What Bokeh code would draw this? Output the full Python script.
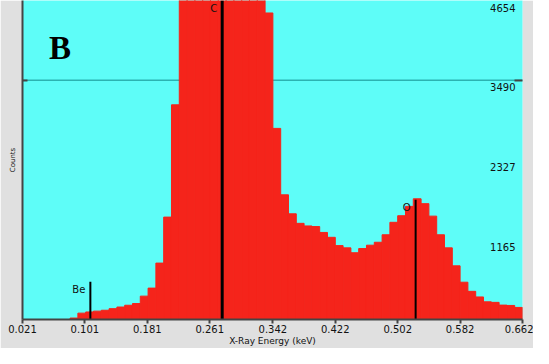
from bokeh.plotting import figure
from bokeh.models import ColumnDataSource, FixedTicker, Span, Label, LinearAxis, Range1d
from bokeh.core.properties import value
from bokeh.embed import file_html
from bokeh.resources import INLINE

# ---- data -------------------------------------------------------------
channel_width_kev = 0.01
channel_start_kev = [round(0.082 + channel_width_kev * i, 3) for i in range(58)]
channel_counts = [
    21, 93, 110, 122, 135, 158, 182, 208, 233, 341, 458, 823, 1494, 3132,
    5400, 7000, 8600, 9700, 10100, 9800, 8800, 7600, 6500, 5600, 4900,
    4472, 2788, 1819, 1542, 1403, 1365, 1356,
    1270, 1199, 1078, 1045, 974, 1035, 1084, 1127, 1236, 1418, 1514, 1650,
    1761, 1690, 1508, 1236, 1045, 783, 544, 411, 329, 258, 250, 210, 205, 176,
]

x_ticks = [0.021, 0.101, 0.181, 0.261, 0.342, 0.422, 0.502, 0.582, 0.662]
x_tick_labels = ["0.021", "0.101", "0.181", "0.261", "0.342", "0.422", "0.502", "0.582", "0.662"]
y_ticks = [1165, 2327, 3490, 4654]
y_tick_labels = ["1165", "2327", "3490", "4654"]
marker_line_value = 3490

elements = ["Be", "C", "O"]
element_kev = [0.108, 0.277, 0.525]
element_marker_top = [551, 4654, 1747]
element_line_width = [2, 3, 2]

x_start, x_end = 0.021, 0.662
y_max = 4654

# ---- style ------------------------------------------------------------
CYAN = "#5efdf8"
RED = "#f5241b"
GRAY = "#e0e0e0"
AXIS = "#444444"
FONT = "DejaVu Sans"

p = figure(
    width=533, height=348,
    x_range=Range1d(x_start, x_end), y_range=Range1d(0, y_max),
    output_backend="svg", toolbar_location=None,
    min_border_left=22, min_border_right=11, min_border_top=0, min_border_bottom=23,
    background_fill_color=CYAN, border_fill_color=GRAY, outline_line_color=None,
)
p.grid.visible = False

# x axis
xa = p.xaxis[0]
xa.ticker = FixedTicker(ticks=x_ticks)
xa.major_label_overrides = {t: l for t, l in zip(x_ticks, x_tick_labels)}
xa.axis_label = "X-Ray Energy (keV)"
xa.axis_label_text_font = FONT
xa.axis_label_text_font_size = "9px"
xa.axis_label_text_font_style = "normal"
xa.axis_label_text_color = "#111111"
xa.axis_label_standoff = 0
xa.major_label_standoff = 1
xa.major_label_text_font = FONT
xa.major_label_text_font_size = "10px"
xa.major_label_text_color = "#111111"
xa.major_tick_out = 4
xa.major_tick_in = 0
xa.major_tick_line_color = AXIS
xa.major_tick_line_width = 2
xa.minor_tick_line_color = None
xa.axis_line_color = AXIS
xa.axis_line_width = 2

# left y axis (line + title only, one inward tick at marker line)
ya = p.yaxis[0]
ya.ticker = FixedTicker(ticks=[marker_line_value])
ya.major_label_overrides = {marker_line_value: ""}
ya.major_tick_in = 5
ya.major_tick_out = 0
ya.major_tick_line_color = AXIS
ya.major_tick_line_width = 2
ya.minor_tick_line_color = None
ya.major_label_standoff = 0
ya.axis_label = "Counts"
ya.axis_label_text_font = FONT
ya.axis_label_text_font_size = "7px"
ya.axis_label_text_font_style = "normal"
ya.axis_label_text_color = "#111111"
ya.axis_label_standoff = 6
ya.axis_line_color = AXIS
ya.axis_line_width = 2

# right axis: only inward tick at marker line
ra = LinearAxis(ticker=FixedTicker(ticks=[marker_line_value]),
                major_label_overrides={marker_line_value: ""})
ra.axis_line_color = None
ra.major_tick_in = 8
ra.major_tick_out = 0
ra.major_tick_line_color = AXIS
ra.major_tick_line_width = 2
ra.minor_tick_line_color = None
ra.major_label_standoff = 0
p.add_layout(ra, "right")

# horizontal marker line
p.add_layout(Span(location=marker_line_value, dimension="width",
                  line_color="#2bb3b1", line_width=1.5, level="underlay"))

# histogram bars (solid, no seams)
lefts = channel_start_kev
rights = [s + channel_width_kev for s in channel_start_kev]
src = ColumnDataSource(dict(left=lefts, right=rights, top=channel_counts,
                            bottom=[0] * len(channel_counts)))
p.quad(left="left", right="right", top="top", bottom="bottom", source=src,
       fill_color=RED, line_color=RED, line_width=1)

# element marker lines and labels
esrc = ColumnDataSource(dict(x=element_kev, top=element_marker_top,
                             name=elements, lw=element_line_width,
                             zero=[0] * len(elements)))
p.segment(x0="x", y0="zero", x1="x", y1="top", line_width="lw",
          line_color="black", source=esrc)
p.text(x="x", y="top", text="name", source=esrc, x_offset=-5, y_offset=2,
       text_align="right", text_baseline="top", text_font=value(FONT),
       text_font_size="10px", text_color="#111111")

# right-side count labels inside the frame
p.text(x=[x_end] * len(y_ticks), y=y_ticks, text=y_tick_labels,
       x_offset=-7, y_offset=3, text_align="right", text_baseline="top",
       text_font=value(FONT), text_font_size="10px", text_color="#111111")

# panel letter
p.add_layout(Label(x=0.055, y=3967, text="B", text_font="Liberation Serif",
                   text_font_style="bold", text_font_size="33px",
                   text_color="black", text_baseline="alphabetic"))

open("out.html", "w").write(file_html(p, INLINE))
